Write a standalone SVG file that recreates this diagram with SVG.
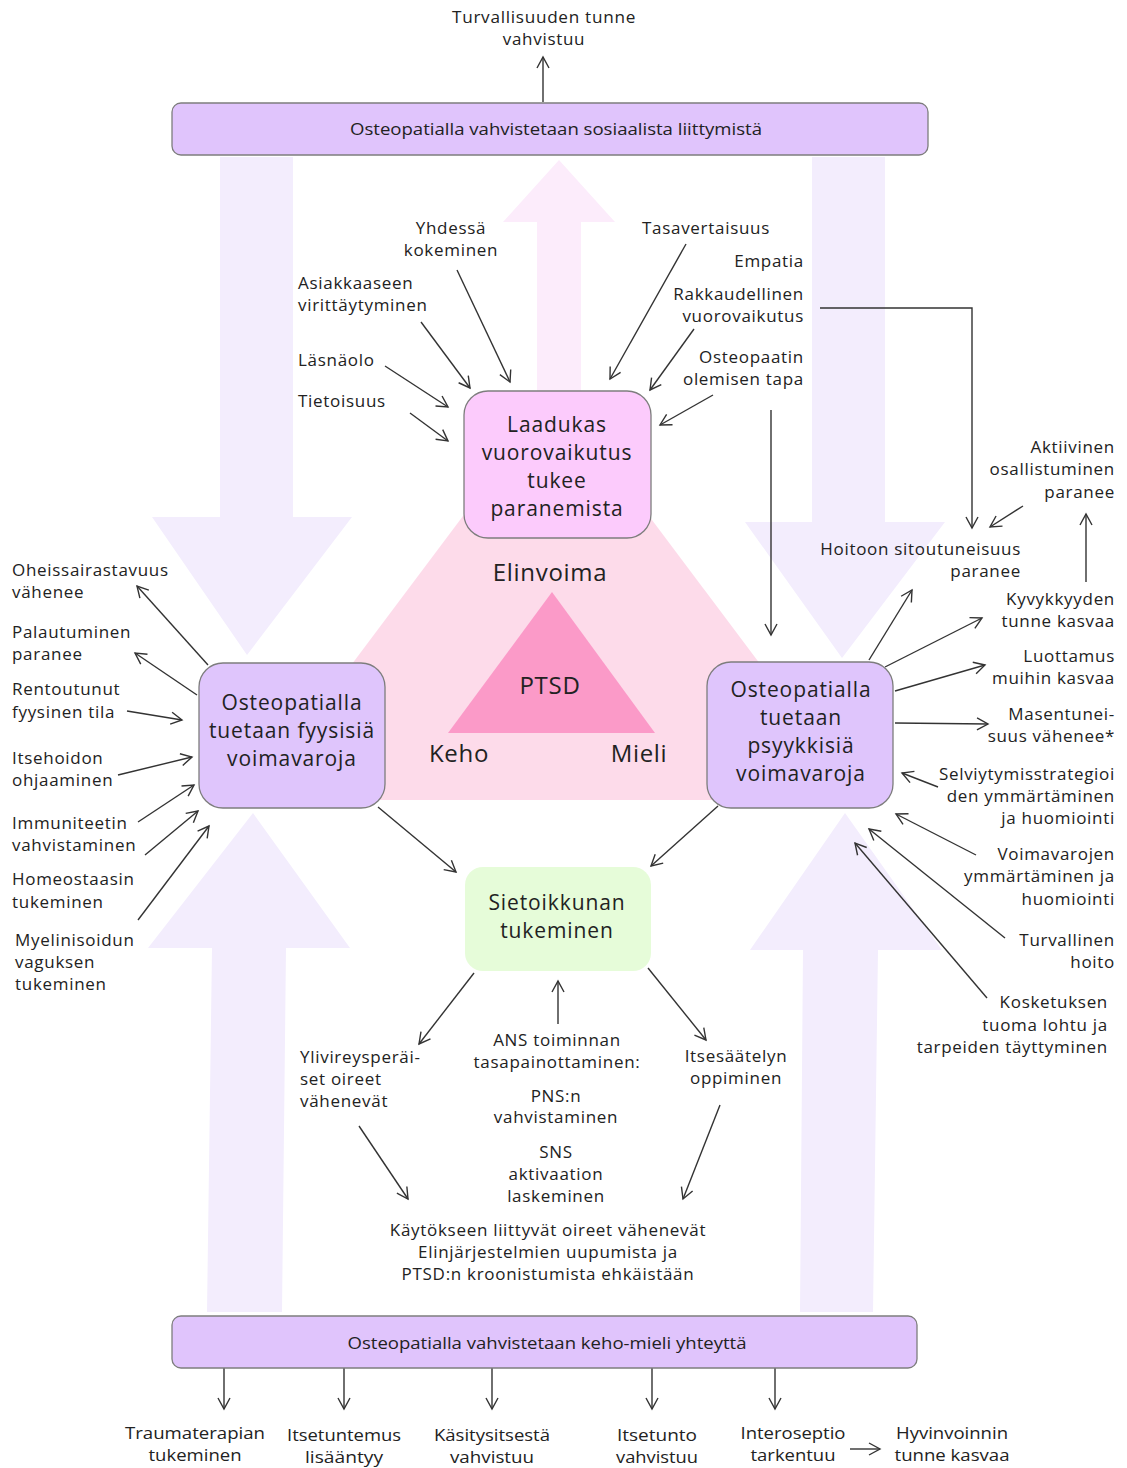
<svg xmlns="http://www.w3.org/2000/svg" width="1127" height="1468" viewBox="0 0 1127 1468">
<style>
text{font-family:"Open Sans","Noto Sans","Liberation Sans",sans-serif;fill:#222;}
.l{font-size:17px;letter-spacing:0.7px;}
.s{text-anchor:start}.m{text-anchor:middle}.e{text-anchor:end}
.b{font-size:21px;letter-spacing:0.9px;text-anchor:middle;}
.big{font-size:24px;letter-spacing:0.7px;text-anchor:middle;}
.bar{font-size:16.5px;text-anchor:middle;}
.bt{font-size:16px;text-anchor:middle;}
.box{stroke:#7d7d7d;stroke-width:1.3;}
.c line,.c polyline{stroke:#333;stroke-width:1.4;fill:none;marker-end:url(#ah);}
.bg{fill:#f3edfd;}
</style>
<defs>
<marker id="ah" markerUnits="userSpaceOnUse" markerWidth="14" markerHeight="14" viewBox="0 0 14 14" refX="12" refY="7" orient="auto">
<path d="M1,1 L12,7 L1,13" fill="none" stroke="#333" stroke-width="1.4"/>
</marker>
</defs>
<rect width="1127" height="1468" fill="#ffffff"/>
<g id="background">
<polygon class="bg" points="220,157 293,157 293,517 352,517 247,655 152,517 220,517"/>
<polygon class="bg" points="812,157 885,157 885,522 945,522 842,658 745,522 812,522"/>
<polygon class="bg" points="253,813 350,948 286,948 282,1312 207,1312 212,948 148,948"/>
<polygon class="bg" points="845,813 942,950 878,950 873,1312 800,1312 803,950 750,950"/>
<polygon fill="#fcecfb" points="559,160 615,222 581,222 581,395 537,395 537,222 503,222"/>
<polygon fill="#fddbea" points="556,392 862,800 250,800"/>
<polygon fill="#fb9ac8" points="552,592 655,733 448,733"/>
<text class="big" x="550" y="581">Elinvoima</text>
<text class="big" x="550" y="694">PTSD</text>
<text class="big" x="459" y="762">Keho</text>
<text class="big" x="639" y="762">Mieli</text>
</g>
<g class="c" id="connectors">
<line x1="543" y1="102" x2="543" y2="57"/>
<line x1="457" y1="270" x2="510" y2="382"/>
<line x1="421" y1="322" x2="470" y2="388"/>
<line x1="385" y1="366" x2="448" y2="407"/>
<line x1="410" y1="413" x2="448" y2="441"/>
<line x1="686" y1="244" x2="610" y2="379"/>
<line x1="694" y1="329" x2="650" y2="390"/>
<line x1="713" y1="395" x2="660" y2="425"/>
<polyline points="820,308 972,308 972,528"/>
<line x1="771" y1="410" x2="771" y2="635"/>
<line x1="1023" y1="506" x2="990" y2="527"/>
<line x1="1086" y1="582" x2="1086" y2="514"/>
<line x1="869" y1="660" x2="912" y2="590"/>
<line x1="885" y1="667" x2="982" y2="618"/>
<line x1="895" y1="691" x2="985" y2="665"/>
<line x1="895" y1="723" x2="988" y2="724"/>
<line x1="938" y1="787" x2="902" y2="773"/>
<line x1="976" y1="855" x2="896" y2="814"/>
<line x1="1005" y1="938" x2="869" y2="829"/>
<line x1="987" y1="998" x2="855" y2="843"/>
<line x1="208" y1="665" x2="137" y2="586"/>
<line x1="197" y1="695" x2="135" y2="653"/>
<line x1="127" y1="711" x2="182" y2="720"/>
<line x1="118" y1="775" x2="192" y2="757"/>
<line x1="138" y1="822" x2="194" y2="785"/>
<line x1="145" y1="855" x2="198" y2="811"/>
<line x1="138" y1="920" x2="209" y2="826"/>
<line x1="378" y1="807" x2="456" y2="872"/>
<line x1="718" y1="806" x2="651" y2="866"/>
<line x1="474" y1="973" x2="419" y2="1044"/>
<line x1="558" y1="1024" x2="558" y2="981"/>
<line x1="648" y1="968" x2="706" y2="1040"/>
<line x1="359" y1="1126" x2="408" y2="1199"/>
<line x1="720" y1="1105" x2="683" y2="1199"/>
<line x1="224" y1="1368" x2="224" y2="1409"/>
<line x1="344" y1="1368" x2="344" y2="1409"/>
<line x1="492" y1="1368" x2="492" y2="1409"/>
<line x1="652" y1="1368" x2="652" y2="1409"/>
<line x1="775" y1="1368" x2="775" y2="1409"/>
<line x1="850" y1="1449" x2="880" y2="1449"/>
</g>
<g id="top-bar">
<rect class="box" x="172" y="103" width="756" height="52" rx="9" fill="#e0c4fc"/>
<text class="bar" x="556" y="135" textLength="412" lengthAdjust="spacingAndGlyphs">Osteopatialla vahvistetaan sosiaalista liittymistä</text>
</g>
<g id="bottom-bar">
<rect class="box" x="172" y="1316" width="745" height="52" rx="9" fill="#e0c4fc"/>
<text class="bar" x="547" y="1349" textLength="399" lengthAdjust="spacingAndGlyphs">Osteopatialla vahvistetaan keho-mieli yhteyttä</text>
</g>
<g id="node-laadukas">
<rect class="box" x="464" y="391" width="187" height="147" rx="24" fill="#fccbfc"/>
<text class="b" x="557" y="432">Laadukas</text>
<text class="b" x="557" y="460">vuorovaikutus</text>
<text class="b" x="557" y="488">tukee</text>
<text class="b" x="557" y="516">paranemista</text>
</g>
<g id="node-fyysiset">
<rect class="box" x="199" y="663" width="186" height="145" rx="24" fill="#dfc5fc"/>
<text class="b" x="292" y="710">Osteopatialla</text>
<text class="b" x="292" y="738">tuetaan fyysisiä</text>
<text class="b" x="292" y="766">voimavaroja</text>
</g>
<g id="node-psyykkiset">
<rect class="box" x="707" y="662" width="186" height="146" rx="24" fill="#dfc5fc"/>
<text class="b" x="801" y="697">Osteopatialla</text>
<text class="b" x="801" y="725">tuetaan</text>
<text class="b" x="801" y="753">psyykkisiä</text>
<text class="b" x="801" y="781">voimavaroja</text>
</g>
<g id="node-sietoikkuna">
<rect x="465" y="867" width="186" height="104" rx="18" fill="#e6fcd9"/>
<text class="b" x="557" y="910">Sietoikkunan</text>
<text class="b" x="557" y="938">tukeminen</text>
</g>
<g id="labels-top">
<text class="l m" x="544" y="23" textLength="184" lengthAdjust="spacingAndGlyphs">Turvallisuuden tunne</text>
<text class="l m" x="544" y="45">vahvistuu</text>
<text class="l m" x="451" y="234">Yhdessä</text>
<text class="l m" x="451" y="256">kokeminen</text>
<text class="l s" x="298" y="289">Asiakkaaseen</text>
<text class="l s" x="298" y="311">virittäytyminen</text>
<text class="l s" x="298" y="366">Läsnäolo</text>
<text class="l s" x="298" y="407">Tietoisuus</text>
<text class="l m" x="706" y="234">Tasavertaisuus</text>
<text class="l e" x="804" y="267">Empatia</text>
<text class="l e" x="804" y="300">Rakkaudellinen</text>
<text class="l e" x="804" y="322">vuorovaikutus</text>
<text class="l e" x="804" y="363">Osteopaatin</text>
<text class="l e" x="804" y="385">olemisen tapa</text>
</g>
<g id="labels-right">
<text class="l e" x="1115" y="453">Aktiivinen</text>
<text class="l e" x="1115" y="475">osallistuminen</text>
<text class="l e" x="1115" y="498">paranee</text>
<text class="l e" x="1021" y="555">Hoitoon sitoutuneisuus</text>
<text class="l e" x="1021" y="577">paranee</text>
<text class="l e" x="1115" y="605">Kyvykkyyden</text>
<text class="l e" x="1115" y="627">tunne kasvaa</text>
<text class="l e" x="1115" y="662">Luottamus</text>
<text class="l e" x="1115" y="684">muihin kasvaa</text>
<text class="l e" x="1115" y="720">Masentunei-</text>
<text class="l e" x="1115" y="742">suus vähenee*</text>
<text class="l e" x="1115" y="780">Selviytymisstrategioi</text>
<text class="l e" x="1115" y="802">den ymmärtäminen</text>
<text class="l e" x="1115" y="824">ja huomiointi</text>
<text class="l e" x="1115" y="860">Voimavarojen</text>
<text class="l e" x="1115" y="882">ymmärtäminen ja</text>
<text class="l e" x="1115" y="905">huomiointi</text>
<text class="l e" x="1115" y="946">Turvallinen</text>
<text class="l e" x="1115" y="968">hoito</text>
<text class="l e" x="1108" y="1008">Kosketuksen</text>
<text class="l e" x="1108" y="1031">tuoma lohtu ja</text>
<text class="l e" x="1108" y="1053">tarpeiden täyttyminen</text>
</g>
<g id="labels-left">
<text class="l s" x="12" y="576">Oheissairastavuus</text>
<text class="l s" x="12" y="598">vähenee</text>
<text class="l s" x="12" y="638">Palautuminen</text>
<text class="l s" x="12" y="660">paranee</text>
<text class="l s" x="12" y="695">Rentoutunut</text>
<text class="l s" x="12" y="718">fyysinen tila</text>
<text class="l s" x="12" y="764">Itsehoidon</text>
<text class="l s" x="12" y="786">ohjaaminen</text>
<text class="l s" x="12" y="829">Immuniteetin</text>
<text class="l s" x="12" y="851">vahvistaminen</text>
<text class="l s" x="12" y="885">Homeostaasin</text>
<text class="l s" x="12" y="908">tukeminen</text>
<text class="l s" x="15" y="946">Myelinisoidun</text>
<text class="l s" x="15" y="968">vaguksen</text>
<text class="l s" x="15" y="990">tukeminen</text>
</g>
<g id="labels-center">
<text class="l s" x="300" y="1063">Ylivireysperäi-</text>
<text class="l s" x="300" y="1085">set oireet</text>
<text class="l s" x="300" y="1107">vähenevät</text>
<text class="l m" x="557" y="1046">ANS toiminnan</text>
<text class="l m" x="557" y="1068">tasapainottaminen:</text>
<text class="l m" x="556" y="1102">PNS:n</text>
<text class="l m" x="556" y="1123">vahvistaminen</text>
<text class="l m" x="556" y="1158">SNS</text>
<text class="l m" x="556" y="1180">aktivaation</text>
<text class="l m" x="556" y="1202">laskeminen</text>
<text class="l m" x="736" y="1062">Itsesäätelyn</text>
<text class="l m" x="736" y="1084">oppiminen</text>
<text class="l m" x="548" y="1236">Käytökseen liittyvät oireet vähenevät</text>
<text class="l m" x="548" y="1258">Elinjärjestelmien uupumista ja</text>
<text class="l m" x="548" y="1280">PTSD:n kroonistumista ehkäistään</text>
</g>
<g id="labels-bottom">
<text class="bt" x="195" y="1439" textLength="140" lengthAdjust="spacingAndGlyphs">Traumaterapian</text>
<text class="bt" x="195" y="1461" textLength="93" lengthAdjust="spacingAndGlyphs">tukeminen</text>
<text class="bt" x="344" y="1441" textLength="114" lengthAdjust="spacingAndGlyphs">Itsetuntemus</text>
<text class="bt" x="344" y="1463" textLength="78" lengthAdjust="spacingAndGlyphs">lisääntyy</text>
<text class="bt" x="492" y="1441" textLength="116" lengthAdjust="spacingAndGlyphs">Käsitysitsestä</text>
<text class="bt" x="492" y="1463" textLength="84" lengthAdjust="spacingAndGlyphs">vahvistuu</text>
<text class="bt" x="657" y="1441" textLength="80" lengthAdjust="spacingAndGlyphs">Itsetunto</text>
<text class="bt" x="657" y="1463" textLength="82" lengthAdjust="spacingAndGlyphs">vahvistuu</text>
<text class="bt" x="793" y="1439" textLength="105" lengthAdjust="spacingAndGlyphs">Interoseptio</text>
<text class="bt" x="793" y="1461" textLength="85" lengthAdjust="spacingAndGlyphs">tarkentuu</text>
<text class="bt" x="952" y="1439" textLength="112" lengthAdjust="spacingAndGlyphs">Hyvinvoinnin</text>
<text class="bt" x="952" y="1461" textLength="115" lengthAdjust="spacingAndGlyphs">tunne kasvaa</text>
</g>
</svg>
